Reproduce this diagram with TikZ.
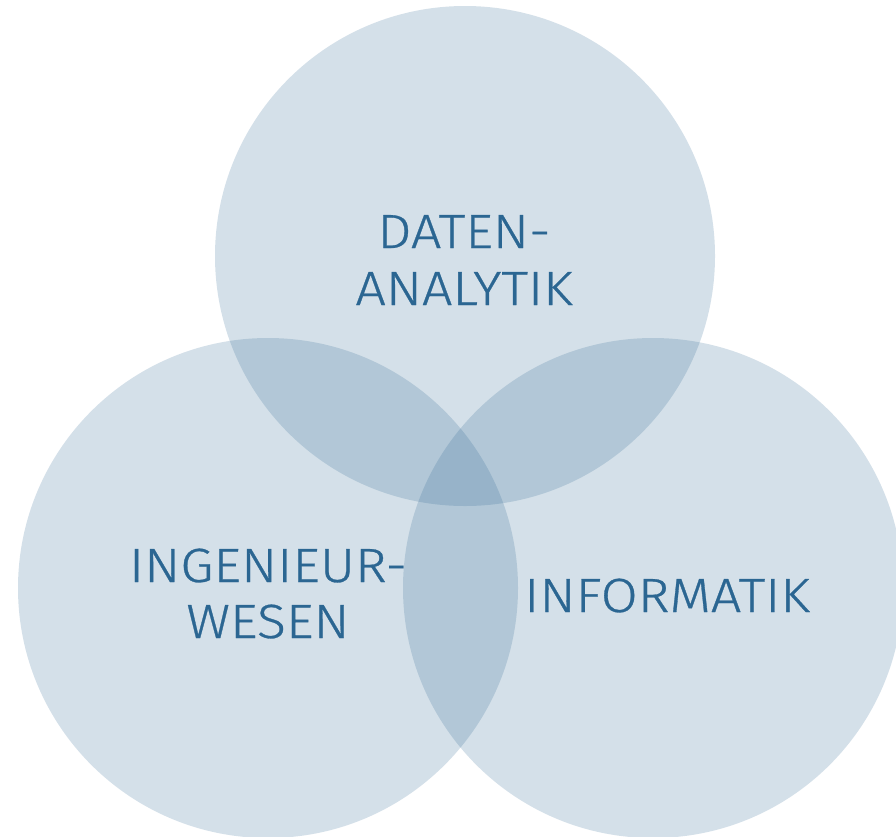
\documentclass[tikz,border=0pt]{standalone}
\usepackage{fontspec}
\setmainfont{Fira Sans Light}[FakeStretch=1.12,FakeBold=0.6]
\definecolor{vblue}{RGB}{43,102,146}
\begin{document}
\begin{tikzpicture}[x=1pt,y=-1pt,
  venn/.style={fill=vblue,fill opacity=0.2,draw=none},
  lbl/.style={text=vblue,font=\fontsize{48}{57}\selectfont,align=center,inner sep=0pt,anchor=base}]
\useasboundingbox (0,0) rectangle (896,836);
\fill[white] (0,0) rectangle (896,836);
\path[venn] (465,256) circle (250);
\path[venn] (268,588) circle (250);
\path[venn] (653,588) circle (250);
\node[lbl] (dat) at (464,248) {DATEN-};
\node[lbl] (ana) at (464,305) {ANALYTIK};
\node[lbl] (ing) at (268,582) {INGENIEUR-};
\node[lbl] (wes) at (268,638) {WESEN};
\node[lbl] (inf) at (667,612) {INFORMATIK};
\end{tikzpicture}
\end{document}
